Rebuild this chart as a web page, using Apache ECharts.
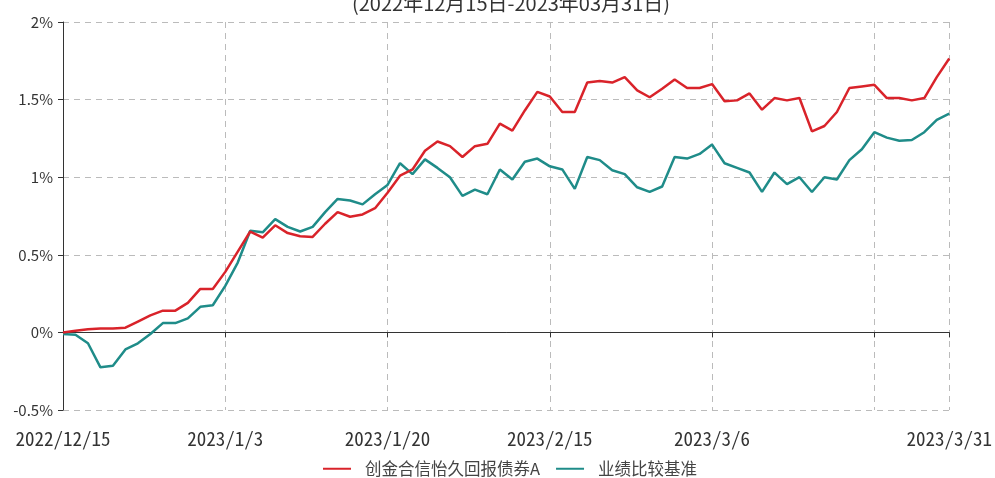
<!DOCTYPE html>
<html>
<head>
<meta charset="utf-8">
<script src="https://cdn.jsdelivr.net/npm/echarts@6/dist/echarts.min.js"></script>
<style>html,body{margin:0;padding:0;background:#fff;}#c{width:995px;height:478px;}</style>
</head>
<body>
<div id="c"></div>
<script>
const dates = ['2022/12/15','2022/12/16','2022/12/19','2022/12/20','2022/12/21','2022/12/22','2022/12/23','2022/12/26','2022/12/27','2022/12/28','2022/12/29','2022/12/30','2022/12/31',
'2023/1/3','2023/1/4','2023/1/5','2023/1/6','2023/1/9','2023/1/10','2023/1/11','2023/1/12','2023/1/13','2023/1/16','2023/1/17','2023/1/18','2023/1/19','2023/1/20','2023/1/30','2023/1/31',
'2023/2/1','2023/2/2','2023/2/3','2023/2/6','2023/2/7','2023/2/8','2023/2/9','2023/2/10','2023/2/13','2023/2/14','2023/2/15','2023/2/16','2023/2/17','2023/2/20','2023/2/21','2023/2/22','2023/2/23','2023/2/24','2023/2/27','2023/2/28',
'2023/3/1','2023/3/2','2023/3/3','2023/3/6','2023/3/7','2023/3/8','2023/3/9','2023/3/10','2023/3/13','2023/3/14','2023/3/15','2023/3/16','2023/3/17','2023/3/20','2023/3/21','2023/3/22','2023/3/23','2023/3/24','2023/3/27','2023/3/28','2023/3/29','2023/3/30','2023/3/31'];

const fundName = '创金合信怡久回报债券A';
const benchName = '业绩比较基准';
const titleText = '(2022年12月15日-2023年03月31日)';

const fundValues = [0.00,0.01,0.02,0.025,0.025,0.03,0.07,0.11,0.14,0.14,0.19,0.28,0.28,
0.39,0.52,0.65,0.61,0.69,0.64,0.62,0.615,0.70,0.775,0.745,0.76,0.80,0.90,1.01,1.05,
1.17,1.23,1.20,1.13,1.20,1.215,1.345,1.30,1.43,1.55,1.52,1.42,1.42,1.61,1.62,1.61,1.645,1.56,1.515,1.57,
1.63,1.575,1.575,1.60,1.49,1.495,1.54,1.435,1.51,1.495,1.51,1.295,1.33,1.42,1.575,1.585,1.595,1.51,1.51,1.495,1.51,1.645,1.765];

const benchValues = [-0.01,-0.015,-0.07,-0.225,-0.215,-0.11,-0.07,-0.01,0.06,0.06,0.09,0.165,0.175,
0.30,0.45,0.655,0.645,0.73,0.68,0.65,0.68,0.775,0.86,0.85,0.825,0.89,0.95,1.09,1.02,
1.115,1.06,1.00,0.88,0.92,0.89,1.05,0.985,1.10,1.12,1.07,1.05,0.925,1.13,1.11,1.045,1.02,0.935,0.905,0.94,
1.13,1.12,1.15,1.21,1.09,1.06,1.03,0.905,1.03,0.955,1.00,0.905,1.00,0.985,1.11,1.18,1.29,1.255,1.235,1.24,1.29,1.37,1.41];

const labelIdx = [0,13,26,39,52,71];
const gridIdx = [0,13,26,39,52,65,71];

const chart = echarts.init(document.getElementById('c'));
chart.setOption({
  animation:false,
  title:{text:titleText, left:506, textAlign:'center', top:-12,
    textStyle:{fontSize:20, fontWeight:'normal', color:'#333', fontFamily:'"Noto Sans CJK SC", sans-serif'}},
  legend:{bottom:-4, left:318, itemWidth:28, itemHeight:10, itemGap:16,
    icon:'path://M0,4 L28,4 L28,6 L0,6 Z',
    textStyle:{fontSize:16.5, color:'#444', fontFamily:'"Noto Sans CJK SC", sans-serif', padding:[0,0,0,9]},
    data:[fundName, benchName]},
  grid:{left:63, right:45, top:22, bottom:68, containLabel:false},
  xAxis:[
    {type:'category', data:dates, boundaryGap:false, position:'bottom',
      axisLine:{show:false, onZero:false}, axisTick:{show:false},
      axisLabel:{interval:(i)=>labelIdx.includes(i), margin:19, fontSize:19, color:'#333',
        fontFamily:'"Noto Sans Mono CJK SC", "Liberation Mono", monospace'},
      splitLine:{show:true, interval:(i)=>gridIdx.includes(i), lineStyle:{type:[6,5], color:'#bbb', width:1}}},
    {type:'category', data:dates, boundaryGap:false, position:'bottom',
      axisLine:{show:true, onZero:true, lineStyle:{color:'#333', width:1}},
      axisTick:{show:true, interval:(i)=>gridIdx.includes(i), length:5, lineStyle:{color:'#333'}},
      axisLabel:{show:false}, splitLine:{show:false}}
  ],
  yAxis:{type:'value', min:-0.5, max:2, interval:0.5,
    axisLine:{show:true, lineStyle:{color:'#333'}}, axisTick:{show:true, length:5, lineStyle:{color:'#333'}},
    axisLabel:{formatter:(v)=>v+'%', margin:10, fontSize:15, color:'#333', fontFamily:'"Noto Sans CJK SC", sans-serif'},
    splitLine:{show:true, lineStyle:{type:[6,5], color:'#bbb', width:1}}},
  series:[
    {name:fundName, type:'line', data:fundValues, showSymbol:false, symbol:'none',
      lineStyle:{color:'#d9232a', width:2.5}, itemStyle:{color:'#d9232a'}, z:3},
    {name:benchName, type:'line', data:benchValues, showSymbol:false, symbol:'none',
      lineStyle:{color:'#1f8c89', width:2.5}, itemStyle:{color:'#1f8c89'}, z:2}
  ]
});
</script>
</body>
</html>
